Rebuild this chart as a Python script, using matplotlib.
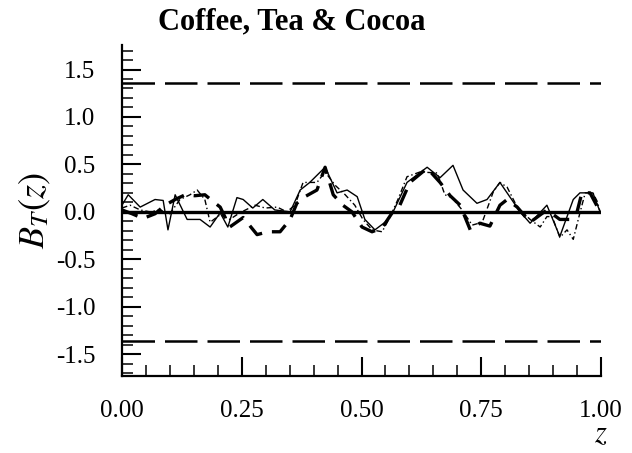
import numpy as np
import matplotlib
matplotlib.use("Agg")
import matplotlib.pyplot as plt
from matplotlib.ticker import MultipleLocator

plt.rcParams['font.family'] = ['Liberation Serif', 'DejaVu Serif']
plt.rcParams['mathtext.fontset'] = 'stix'
plt.rcParams['axes.unicode_minus'] = False

# Three B_T(z) traces
z_solid = [0.000, 0.013, 0.038, 0.069, 0.086, 0.096, 0.111, 0.136, 0.163, 0.184,
           0.205, 0.221, 0.240, 0.253, 0.273, 0.294, 0.319, 0.351, 0.372, 0.392,
           0.424, 0.449, 0.470, 0.491, 0.507, 0.528, 0.549, 0.566, 0.595, 0.637,
           0.664, 0.691, 0.712, 0.741, 0.762, 0.789, 0.831, 0.852, 0.887, 0.914,
           0.942, 0.956, 0.983, 0.998]
b_solid = [0.07, 0.18, 0.05, 0.13, 0.12, -0.19, 0.18, -0.08, -0.08, -0.16,
           -0.01, -0.16, 0.15, 0.13, 0.04, 0.13, 0.02, 0.00, 0.23, 0.31,
           0.47, 0.20, 0.23, 0.16, -0.08, -0.19, -0.11, 0.00, 0.31, 0.47,
           0.36, 0.49, 0.23, 0.09, 0.13, 0.31, 0.00, -0.12, 0.07, -0.26,
           0.13, 0.20, 0.20, 0.00]

z_dash = [0.000, 0.021, 0.044, 0.069, 0.090, 0.111, 0.132, 0.152, 0.173, 0.190,
          0.205, 0.225, 0.253, 0.282, 0.305, 0.330, 0.351, 0.365, 0.382, 0.407,
          0.424, 0.441, 0.461, 0.480, 0.501, 0.522, 0.543, 0.564, 0.580, 0.601,
          0.637, 0.664, 0.685, 0.706, 0.727, 0.747, 0.768, 0.789, 0.804, 0.825,
          0.852, 0.887, 0.914, 0.935, 0.950, 0.960, 0.977, 0.998]
b_dash = [0.02, -0.02, -0.07, -0.02, 0.07, 0.13, 0.18, 0.17, 0.18, 0.11,
          0.05, -0.16, -0.06, -0.24, -0.21, -0.21, -0.08, 0.09, 0.16, 0.23,
          0.47, 0.18, 0.07, 0.00, -0.16, -0.21, -0.17, -0.01, 0.07, 0.31,
          0.46, 0.31, 0.17, 0.07, -0.19, -0.12, -0.15, 0.07, 0.13, 0.05,
          -0.11, 0.02, -0.08, -0.08, 0.00, 0.20, 0.20, 0.00]

z_dot = [0.000, 0.017, 0.038, 0.058, 0.079, 0.100, 0.121, 0.142, 0.157, 0.173,
         0.184, 0.205, 0.225, 0.246, 0.278, 0.299, 0.324, 0.344, 0.361, 0.378,
         0.407, 0.424, 0.445, 0.466, 0.486, 0.503, 0.522, 0.543, 0.559, 0.576,
         0.595, 0.622, 0.658, 0.674, 0.689, 0.710, 0.731, 0.752, 0.775, 0.789,
         0.804, 0.825, 0.852, 0.873, 0.887, 0.898, 0.914, 0.929, 0.942, 0.956,
         0.967, 0.983, 0.992, 0.998]
b_dot = [0.04, 0.07, 0.02, 0.00, 0.02, -0.02, 0.13, 0.18, 0.23, 0.13,
         -0.11, -0.03, -0.08, -0.01, 0.07, 0.04, 0.05, 0.00, 0.07, 0.31,
         0.31, 0.42, 0.28, 0.18, 0.07, -0.08, -0.19, -0.21, -0.06, 0.13,
         0.37, 0.42, 0.41, 0.18, 0.15, 0.02, -0.14, -0.11, 0.21, 0.31,
         0.26, 0.05, -0.08, -0.16, -0.05, -0.05, -0.27, -0.19, -0.29, -0.01,
         0.20, 0.20, 0.11, 0.00]

band = 1.36  # critical value

fig = plt.figure(figsize=(6.32, 4.53), dpi=100)
ax = fig.add_axes([0.193, 0.170, 0.758, 0.731])

ax.axhline(0, color='black', lw=2.4, zorder=1)
ax.axhline(band, color='black', lw=1.8, dashes=(13, 4))
ax.axhline(-band, color='black', lw=1.8, dashes=(13, 4))

ax.plot(z_solid, b_solid, color='black', lw=1.0)
ax.plot(z_dash, b_dash, color='black', lw=2.4, dashes=(5, 3))
ax.plot(z_dot, b_dot, color='black', lw=1.0, dashes=(4, 2, 1, 2))

ax.set_xlim(0, 1)
ax.set_ylim(-1.73, 1.76)
ax.set_xticks([0, 0.25, 0.5, 0.75, 1.0])
ax.set_xticklabels(['0.00', '0.25', '0.50', '0.75', '1.00'])
ax.xaxis.set_minor_locator(MultipleLocator(0.05))
ax.set_yticks([-1.5, -1.0, -0.5, 0.0, 0.5, 1.0, 1.5])
ax.yaxis.set_minor_locator(MultipleLocator(0.1))

ax.tick_params(which='major', direction='in', length=14, width=1.5,
               labelsize=18, pad=17)
ax.tick_params(which='minor', direction='in', length=8, width=1.1)
ax.tick_params(axis='y', which='major', pad=19)

for side in ['top', 'right']:
    ax.spines[side].set_visible(False)
for side in ['left', 'bottom']:
    ax.spines[side].set_linewidth(1.6)

fig.text(0.461, 0.951, 'Coffee, Tea & Cocoa', fontsize=22, fontweight='bold',
         ha='center', va='center')
ax.set_ylabel('$B_T(z)$', fontsize=26, labelpad=2)
fig.text(0.951, 0.025, '$z$', fontsize=22, ha='center')

fig.savefig('out.png', dpi=100)
